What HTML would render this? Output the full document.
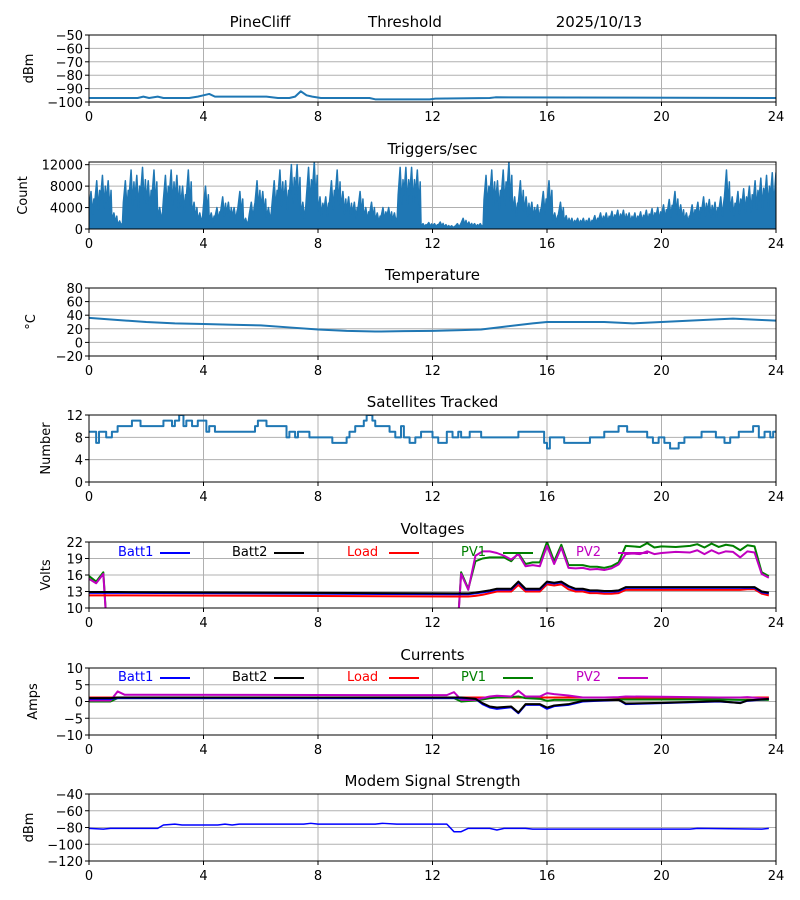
<!DOCTYPE html>
<html><head><meta charset="utf-8"><style>
body{margin:0;background:#fff;}
svg{display:block;font-family:"DejaVu Sans","Liberation Sans",sans-serif;}
</style></head><body>
<svg id="chart" width="800" height="900" viewBox="0 0 800 900" xmlns="http://www.w3.org/2000/svg"></svg>
<script>
// ---------- data ----------
const xTicks = [0,4,8,12,16,20,24];
const thrT = [0,1.7,1.9,2.1,2.4,2.6,3.5,3.8,4.0,4.2,4.4,5.3,5.6,5.9,6.2,6.6,7.0,7.2,7.4,7.6,7.8,8.1,9.8,10.0,11.9,12.1,14.0,14.2,24];
const thrV = [-97,-97,-96,-97,-96,-97,-97,-96,-95,-94,-96,-96,-96,-96,-96,-97,-97,-96,-92,-95,-96,-97,-97,-98,-98,-97.5,-97,-96.5,-97];
const trigPeaks = [7000,9000,10000,9000,3000,1500,9000,11000,10000,11500,
 9000,11000,4000,10000,11000,10000,8000,11000,5000,3000,
 8000,3000,4000,6000,5000,4000,7000,2000,5000,9000,
 7000,4000,9000,11000,9000,12000,12000,5000,11500,12500,
 6000,6000,9000,11000,7000,6000,5000,7000,4000,5000,
 3000,4000,4000,3000,11500,11500,11500,11000,1000,1200,
 1000,1300,800,600,1000,2000,1300,1000,1000,10000,
 11000,9000,11000,12500,6000,9000,6000,5000,4500,7000,
 9000,3000,5000,2500,2000,2000,2000,2000,2500,3000,
 3000,3300,3500,3500,3000,3000,3200,3500,3800,4000,
 4500,5500,7000,4500,3000,4500,5000,6000,5500,5000,
 6000,11000,6000,7000,7500,8000,9000,9500,10000,10500];
const tempT = [0,1,2,3,4,5,6,7,8,9,10,11,12,13,13.7,14.5,15.5,16,18,19,20,21,22,22.5,23.5,24];
const tempV = [36,33,30,28,27,26,25,22,19,17,16,16.5,17,18,19,23,28,30,30,28,30,32,34,35,33,32];
const satT = [0,0.25,0.35,0.6,0.8,1,1.5,1.8,2.6,2.9,3,3.15,3.3,3.4,3.6,3.8,4.1,4.2,4.4,5.8,5.9,6.2,6.9,7,7.2,7.3,7.7,8.5,9,9.1,9.3,9.6,9.7,9.9,10,10.5,10.7,10.9,11,11.2,11.4,11.6,12,12.2,12.5,12.7,12.9,13,13.3,13.7,15,15.9,16,16.1,16.6,17.5,18,18.5,18.8,19.5,19.7,19.9,20.1,20.3,20.6,20.8,21.4,21.9,22.2,22.4,22.7,23.2,23.4,23.6,23.8,23.9,24];
const satV = [9,7,9,8,9,10,11,10,11,10,11,12,10,11,10,11,9,10,9,10,11,10,8,9,8,9,8,7,8,9,10,11,12,11,10,9,8,10,8,7,8,9,8,7,9,8,9,8,9,8,9,7,6,8,7,8,9,10,9,8,7,8,7,6,7,8,9,8,7,8,9,10,8,9,8,9,9];
// Voltages
const vT = [0,0.25,0.5,0.7,1,12.8,13,13.25,13.5,13.75,14,14.25,14.5,14.75,15,15.25,15.5,15.75,16,16.25,16.5,16.75,17,17.25,17.5,17.75,18,18.25,18.5,18.75,19,19.25,19.5,19.75,20,20.5,21,21.25,21.5,21.75,22,22.25,22.5,22.75,23,23.25,23.5,23.75];
const vPV1 = [15.8,14.8,16.5,0,0,0,16.5,13.5,18.5,19,19.2,19.2,19.2,18.5,20,18,18.3,18.3,22,18.5,21.5,17.8,17.8,17.8,17.5,17.5,17.3,17.6,18.3,21.3,21.2,21.1,21.8,21,21.2,21.1,21.3,21.6,21,21.7,21.1,21.5,21.3,20.5,21.4,21.2,16.5,15.8];
const vPV2 = [15.3,14.5,16.2,0,0,0,16.2,13.3,19.5,20.3,20.3,20,19.5,18.8,19.8,17.6,17.8,17.6,21.3,18,21,17.3,17.2,17.3,17,17.1,16.9,17.2,17.9,19.8,19.9,19.8,20.3,19.8,20,20.2,20.1,20.5,19.8,20.5,19.9,20.3,20.2,19.2,20.3,20.1,16.2,15.5];
const vBatt2 = [12.9,12.9,12.9,12.9,12.9,12.65,12.65,12.65,12.8,13,13.2,13.5,13.5,13.5,14.8,13.5,13.5,13.5,14.8,14.6,14.8,14,13.5,13.5,13.2,13.2,13.1,13.1,13.2,13.8,13.8,13.8,13.8,13.8,13.8,13.8,13.8,13.8,13.8,13.8,13.8,13.8,13.8,13.8,13.8,13.8,13,12.8];
const vBatt1 = vBatt2.map(v=>v-0.15);
const vLoad = [12.3,12.3,12.3,12.3,12.3,12.1,12.1,12.1,12.2,12.4,12.7,13,13,13,14.2,13,13,13,14.3,14.1,14.3,13.4,13,13,12.7,12.7,12.6,12.6,12.7,13.3,13.3,13.3,13.3,13.3,13.3,13.3,13.3,13.3,13.3,13.3,13.3,13.3,13.3,13.3,13.4,13.4,12.6,12.3];
// Currents
const cT = [0,0.75,1,1.25,12.5,12.75,13,13.5,13.75,14,14.25,14.75,15,15.25,15.75,16,16.25,16.75,17.25,18,18.5,18.75,20,22,22.75,23,23.75];
const cBatt1 = [0.8,0.8,1,1,1,1,1,0.8,-0.8,-1.8,-2.2,-1.7,-3.5,-1,-1,-2.2,-1.4,-1,0,0.3,0.5,-0.8,-0.5,0,-0.4,0.2,0.8];
const cBatt2 = [1,1,1.2,1.2,1.2,1.2,1.2,0.8,-0.5,-1.5,-1.8,-1.5,-3.3,-0.8,-0.8,-1.8,-1.2,-0.8,0.2,0.4,0.5,-0.6,-0.4,0.1,-0.5,0.3,0.8];
const cLoad = [1.2,1.2,1.2,1.2,1.2,1.2,1.2,1.2,1.2,1.2,1.2,1.2,1.2,1.2,1.2,1.2,1.2,1.2,1.2,1.2,1.2,1.2,1.2,1.2,1.2,1.2,1.2];
const cPV1 = [0,0,1,1,1,1,0,0.3,0.6,1,1.2,1.3,1.5,1,0.8,0.2,0.5,0.5,0.5,0.5,0.6,0.6,0.6,0.6,0.5,0.5,0.5];
const cPV2 = [0.3,0.3,3,2,1.9,2.8,0.5,0.5,1,1.5,1.7,1.5,3.2,1.5,1.5,2.5,2.2,1.8,1.2,1.2,1.3,1.5,1.4,1.2,1.2,1.3,0.8];
// Modem
const mT = [0,0.5,0.75,2.4,2.6,3,3.25,4.5,4.75,5,5.25,7.5,7.75,8,10,10.25,10.75,12.5,12.75,13,13.25,14,14.25,14.5,15.25,15.5,21,21.25,23.5,23.75];
const mV = [-81,-82,-81,-81,-77,-76,-77,-77,-76,-77,-76,-76,-75,-76,-76,-75,-76,-76,-85,-85,-81,-81,-83,-81,-81,-82,-82,-81,-82,-81];

// ---------- drawing ----------
const svg = document.getElementById('chart');
const NS = 'http://www.w3.org/2000/svg';
const X0 = 89, X1 = 776;
function mk(tag, attrs, parent){const e=document.createElementNS(NS,tag);for(const k in attrs)e.setAttribute(k,attrs[k]);(parent||svg).appendChild(e);return e;}
function xs(t){return X0+(t/24)*(X1-X0);}
let clipId=0;
function panel(name, top, bot, ymin, ymax, yTicks, ylabel, title){
  const ys = v => bot-(v-ymin)/(ymax-ymin)*(bot-top);
  const g = mk('g',{});
  
  
  // grid
  xTicks.forEach(t=>{mk('line',{x1:xs(t),x2:xs(t),y1:top,y2:bot,stroke:'#b0b0b0','stroke-width':1},g);});
  yTicks.forEach(v=>{mk('line',{x1:X0,x2:X1,y1:ys(v),y2:ys(v),stroke:'#b0b0b0','stroke-width':1},g);});
  // ticks labels
  xTicks.forEach(t=>{
    mk('line',{x1:xs(t),x2:xs(t),y1:bot,y2:bot+4,stroke:'#000'},g);
    const tx=mk('text',{x:xs(t),y:bot+19,'font-size':13,'text-anchor':'middle'},g);tx.textContent=t;
    
    
  });
  yTicks.forEach(v=>{
    mk('line',{x1:X0-4,x2:X0,y1:ys(v),y2:ys(v),stroke:'#000'},g);
    const tx=mk('text',{x:X0-6,y:ys(v)+5,'font-size':13,'text-anchor':'end'},g);tx.textContent=String(v).replace('-','\u2212');
    
    
  });
  const yl=mk('text',{x:0,y:0,'font-size':13,'text-anchor':'middle',transform:`translate(${ylabel[1]},${(top+bot)/2}) rotate(-90)`},g);yl.textContent=ylabel[0];
  
  
  if(title){const tt=mk('text',{x:(X0+X1)/2,y:top-8,'font-size':15,'text-anchor':'middle'},g);tt.textContent=title;
    
    }
  clipId++;
  const cp=mk('clipPath',{id:'c'+clipId},g);mk('rect',{x:X0,y:top,width:X1-X0,height:bot-top},cp);
  const plot=mk('g',{'clip-path':`url(#c${clipId})`},g);
  // frame later
  const frame=()=>mk('rect',{x:X0,y:top,width:X1-X0,height:bot-top,fill:'none',stroke:'#000','stroke-width':1},g);
  return {ys,plot,frame};
}
function line(p, T, V, color, w, name, step){
  let pts=[];
  for(let i=0;i<T.length;i++){
    if(step && i>0) pts.push(xs(T[i])+','+p.ys(V[i-1]));
    pts.push(xs(T[i])+','+p.ys(V[i]));
  }
  const e=mk('polyline',{points:pts.join(' '),fill:'none',stroke:color,'stroke-width':w,'stroke-linejoin':'round'},p.plot);
  
  
}
function legend(y, names, colors){
  const lx=[118,232,347,461,576];
  names.forEach((n,i)=>{
    const t=mk('text',{x:lx[i],y:y+5,'font-size':13,fill:colors[i]});t.textContent=n;
    
    
    mk('line',{x1:lx[i]+42,x2:lx[i]+72,y1:y+2,y2:y+2,stroke:colors[i],'stroke-width':2});
  });
}
const BLUE='#1f77b4';
// Panel 1
let p=panel('threshold',35,102,-100,-50,[-50,-60,-70,-80,-90,-100],['dBm',33],null);
line(p,thrT,thrV,BLUE,2,'threshold-line');
p.frame();
[['PineCliff',260],['Threshold',405],['2025/10/13',599]].forEach(([s,x])=>{const t=mk('text',{x:x,y:27,'font-size':15,'text-anchor':'middle'});t.textContent=s;
  
  });
// Panel 2
p=panel('triggers',162,229,0,12500,[0,4000,8000,12000],['Count',27],'Triggers/sec');
{let pts=[xs(0)+','+p.ys(0)];
 trigPeaks.forEach((v,i)=>{const t=i*0.2;pts.push(xs(t)+','+p.ys(v*0.55));pts.push(xs(t+0.07)+','+p.ys(v));pts.push(xs(t+0.13)+','+p.ys(v*0.4));pts.push(xs(t+0.17)+','+p.ys(v*0.8));});
 pts.push(xs(24)+','+p.ys(trigPeaks[trigPeaks.length-1]));pts.push(xs(24)+','+p.ys(0));
 const e=mk('polygon',{points:pts.join(' '),fill:BLUE,stroke:BLUE,'stroke-width':1.5,'stroke-linejoin':'round'},p.plot);
 
 }
p.frame();
// Panel 3
p=panel('temperature',288,356,-20,80,[80,60,40,20,0,-20],['\u00B0C',35],'Temperature');
line(p,tempT,tempV,BLUE,2,'temperature-line');
p.frame();
// Panel 4
p=panel('satellites',415,482,0,12,[0,4,8,12],['Number',50],'Satellites Tracked');
line(p,satT,satV,BLUE,2,'satellites-line',true);
p.frame();
// Panel 5
p=panel('voltages',542,608,10,22,[10,13,16,19,22],['Volts',50],'Voltages');
line(p,vT,vPV1,'green',2,'pv1-voltage-line');
line(p,vT,vPV2,'#c000c0',2,'pv2-voltage-line');
line(p,vT,vLoad,'red',2,'load-voltage-line');
line(p,vT,vBatt1,'blue',2,'batt1-voltage-line');
line(p,vT,vBatt2,'black',2,'batt2-voltage-line');
p.frame();
legend(551,['Batt1','Batt2','Load','PV1','PV2'],['blue','black','red','green','#c000c0']);
// Panel 6
p=panel('currents',668,735,-10,10,[10,5,0,-5,-10],['Amps',37],'Currents');
line(p,cT,cLoad,'red',2,'load-current-line');
line(p,cT,cPV1,'green',2,'pv1-current-line');
line(p,cT,cPV2,'#c000c0',2,'pv2-current-line');
line(p,cT,cBatt1,'blue',2,'batt1-current-line');
line(p,cT,cBatt2,'black',2,'batt2-current-line');
p.frame();
legend(676,['Batt1','Batt2','Load','PV1','PV2'],['blue','black','red','green','#c000c0']);
// Panel 7
p=panel('modem',794,861,-120,-40,[-40,-60,-80,-100,-120],['dBm',33],'Modem Signal Strength');
line(p,mT,mV,'blue',1.5,'modem-signal-line');
p.frame();
</script>
</body></html>
